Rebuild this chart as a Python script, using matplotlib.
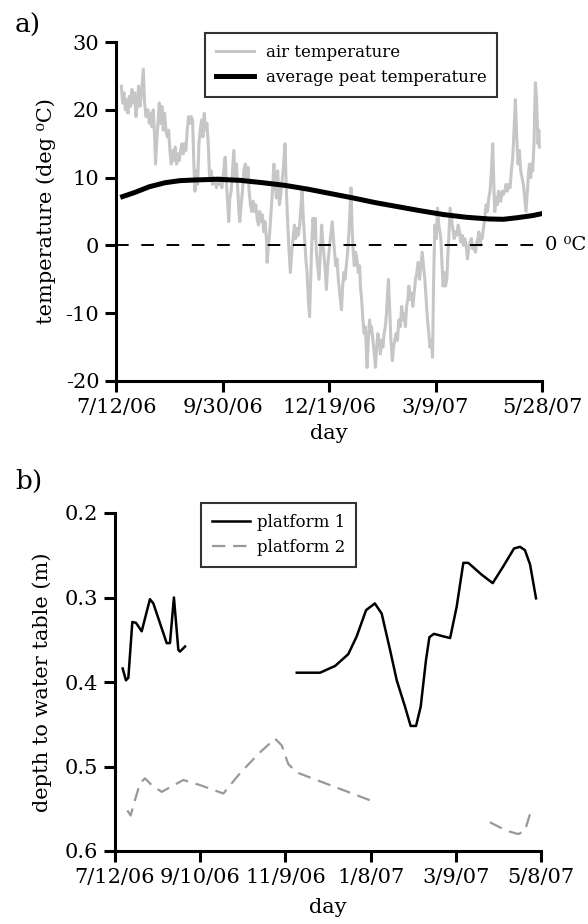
import numpy as np
import matplotlib
matplotlib.use("Agg")
import matplotlib.pyplot as plt

plt.rcParams['font.family'] = ['DejaVu Serif']
plt.rcParams['axes.unicode_minus'] = False

start = np.datetime64('2006-07-12')

# panel a) air temperature, days since 7/12/06
air_day = [4, 5, 6, 7, 8, 9, 10, 11, 12, 13, 14, 15, 16, 17, 18, 19, 20.5, 21.5, 22.5, 24,
           25, 26, 27, 28, 29, 29.7, 30.5, 31.5, 32.5, 33.5, 34.5, 35.5, 36.5, 37.5, 38.5, 39.5,
           40.5, 41.5, 42.5, 43.5, 44.5, 45.5, 46.5, 47.5, 48.5, 49.5, 50.5, 51.5, 52.5, 53.5,
           54.5, 55.5, 56.5, 57.5, 58.5, 59.3, 60.3, 61.3, 62.3, 63.3, 64.3, 65.3, 66.3, 67.3,
           68.3, 69.3, 70.3, 71.5, 72.5, 73.5, 74.5, 75.5, 76.5, 77.5, 78.5, 79.5, 81, 82, 83,
           84, 84.7, 85.5, 86.5, 87.5, 88.5, 89.5, 90.5, 91.5, 92.3, 93, 94, 95, 96, 97.2, 98.2,
           99.2, 100, 101, 102, 103, 104, 105, 106, 107, 108, 109, 110, 111, 112, 113, 113.5,
           114.5, 115.5, 116.5, 117.5, 118.6, 119.5, 120.5, 121.4, 122.3, 122.8, 123.5, 124.5,
           125.5, 126.3, 127, 127.8, 128.6, 129.3, 130, 131, 132, 133, 134, 135, 136, 137, 138,
           139, 139.8, 140.7, 141.7, 142.6, 143.5, 144.5, 145.4, 146.2, 147, 148, 149, 149.7,
           150.5, 151.5, 152.5, 153.5, 154.5, 155.5, 156.5, 157.3, 158, 159, 160, 161, 162.4,
           163.3, 164.2, 165, 166, 167, 168, 169.4, 170.3, 171.2, 172, 173, 174, 175, 176.5,
           177.3, 178.2, 179, 180, 181, 182, 183, 183.6, 184.5, 185.5, 186.4, 187.3, 188, 188.6,
           189.5, 190.5, 191.3, 192, 193, 194, 194.9, 195.8, 196.7, 197.7, 198.6, 199.5, 200.5,
           201.4, 202.3, 203.2, 204, 204.7, 205.5, 206.5, 207.6, 208.5, 209.5, 210.4, 211.4,
           212.4, 213.5, 214.6, 215.5, 216.5, 217.4, 218.3, 219.2, 220, 221, 222, 223, 224, 225,
           226, 227, 228, 229, 230, 231, 232, 233, 234, 235, 235.8, 236.8, 237.8, 238.5, 239.5,
           240.5, 241.5, 242.5, 243.3, 244, 245, 245.7, 246.6, 247.5, 248.5, 249.4, 250.2, 251,
           252, 253, 254, 255, 256, 257, 258, 259, 260, 261, 262, 263, 264, 265, 266, 267, 268,
           269, 270, 271, 272, 272.5, 273.5, 274.3, 275, 276, 277, 278, 279, 280, 281, 282, 283,
           283.8, 284.5, 285.5, 286.5, 287.3, 288, 289, 290, 291, 292, 293, 294, 295, 296, 297,
           298, 299, 300, 301, 302, 303, 304, 305, 306, 307, 308, 309, 310, 310.6, 311.5, 312.3,
           313, 314, 314.6, 315, 315.8, 316.5, 317, 317.6, 318]
air_temp = [23.5, 21, 22.5, 20, 21.5, 19.5, 22, 20.5, 23, 21, 22.5, 19, 21, 23.5, 20.5, 22, 26, 21, 19, 20,
            18, 19.5, 17.5, 20, 16, 12, 15, 18, 21, 18, 20.5, 17, 19.5, 17, 16, 17,
            14, 12, 14, 12.5, 14.5, 12, 13.5, 12.5, 14, 15, 13.5, 15, 14, 17,
            19, 18, 19, 18.5, 12, 8, 11, 9, 15, 17, 18.5, 16, 19.5, 17,
            18, 15, 10, 11, 9, 10, 9.5, 8.5, 10, 9, 10, 8.5, 11, 13, 9,
            6, 3.5, 7, 8, 11, 14, 10, 12, 8, 5, 3.5, 6, 8, 11, 12, 10,
            11.5, 8, 6, 5, 6.5, 5, 6, 4, 3, 5, 3.5, 4.5, 2, 3.5, 1, -2.5,
            0, 2, 5, 8, 12, 9, 7, 11, 8, 6, 7, 9,
            11, 13, 15, 9, 5, 2, -1, -4, -1, 1, 3, 1, 2.5, 1.5, 3,
            6, 8, 4, 1, -2, -4, -8, -10.5, -5, 0, 4, 1, 4,
            -1, -3, -5, -1, 3, 0, -2, -4, -6.5, -3, -1, 1, 3.5,
            1, -1, -3, -2, -5, -7, -9.5, -6, -4, -5, -3, -1, 2, 8.5,
            3, -1, -3, -1, -2, -4, -3, -6, -8, -11, -13, -12, -15, -18,
            -14, -11, -13, -12, -14, -16, -18, -15, -13, -14, -16, -14, -15,
            -13, -12, -10, -7, -5, -9, -14, -17, -15, -14, -13, -14,
            -11, -12, -9, -11, -10, -12, -9, -8, -6, -8, -7, -9, -7, -5,
            -4, -2.5, -5, -3, -1, -3, -5, -8, -11, -13, -15, -14, -16.5, -6, 3,
            1, 5.5, 3, 2, 1, -3, -6, -4, -6, -5, -1, 2, 5.5,
            4, 2.5, 1, 2, 1.5, 3, 2, 0.5, 1.5, 0, 1, 0, -2, -0.5, 0.5, 1, -0.5,
            0, -1, 0.5, 1, 2, 0, 1.5, 1, 2.5, 4, 6, 5, 7, 8, 11, 15,
            9, 5, 7, 6, 8, 7, 6.5, 8, 7.5, 8, 9, 8, 9, 8.5, 11,
            13, 17, 21.5, 16, 12, 14, 11, 10, 9, 7, 5, 8, 11, 12, 10, 12,
            11, 15, 20, 24, 22, 18, 15, 17, 14.5]

# panel a) average peat temperature
peat_day = [5, 14, 25, 37, 48, 59, 76, 93, 110, 127, 144, 161, 178, 195, 212, 229, 246,
            263, 280, 291, 302, 313, 319]
peat_temp = [7.2, 7.8, 8.65, 9.25, 9.55, 9.65, 9.75, 9.6, 9.25, 8.85, 8.3, 7.65, 7.0, 6.3,
             5.7, 5.1, 4.55, 4.15, 3.9, 3.85, 4.1, 4.4, 4.65]

# panel b) depth to water table (nan = no data)
p1_day = [5.4, 7.7, 9.4, 12.2, 14.8, 18.8, 24.6, 27, 36.4, 38.7, 41.5, 44.6, 45.8, 49.3,
          np.nan,
          128, 144.4, 155, 164.3, 170.2, 176.8, 183, 187.8, 193.7, 198.4, 204.2, 208.2, 212,
          215.3, 219, 221.4, 224.6, 231.2, 236, 240.6, 245.3, 248.8, 258.2, 266, 273.5, 281,
          285.2, 288.7, 292.3, 296.5]
p1_depth = [0.384, 0.398, 0.395, 0.329, 0.330, 0.340, 0.302, 0.307, 0.354, 0.354, 0.300,
            0.362, 0.364, 0.358,
            np.nan,
            0.389, 0.389, 0.381, 0.367, 0.346, 0.315, 0.307, 0.319, 0.362, 0.398, 0.429,
            0.452, 0.452, 0.429, 0.374, 0.347, 0.343, 0.346, 0.348, 0.311, 0.259, 0.259,
            0.273, 0.283, 0.263, 0.242, 0.240, 0.244, 0.261, 0.301]
p2_day = [8.7, 11, 14, 17.6, 21.1, 25.8, 32.9, 48.1, 59.9, 76.3, 88, 101, 112.7, 117.4,
          122, 128, 179.6,
          np.nan,
          264, 275.8, 284, 288.7, 292.3]
p2_depth = [0.552, 0.558, 0.540, 0.520, 0.514, 0.522, 0.530, 0.516, 0.522, 0.532, 0.508,
            0.485, 0.467, 0.475, 0.497, 0.507, 0.540,
            np.nan,
            0.566, 0.576, 0.580, 0.576, 0.556]

top_ticks = ['2006-07-12', '2006-09-30', '2006-12-19', '2007-03-09', '2007-05-28']
top_labels = ['7/12/06', '9/30/06', '12/19/06', '3/9/07', '5/28/07']
bot_ticks = ['2006-07-12', '2006-09-10', '2006-11-09', '2007-01-08', '2007-03-09', '2007-05-08']
bot_labels = ['7/12/06', '9/10/06', '11/9/06', '1/8/07', '3/9/07', '5/8/07']


def to_days(dates):
    return (np.array(dates, dtype='datetime64[D]') - start).astype(int)


def style_axes(ax):
    for side in ['top', 'right']:
        ax.spines[side].set_visible(False)
    for side in ['left', 'bottom']:
        ax.spines[side].set_linewidth(2.2)
    ax.tick_params(direction='out', length=8, width=2.2, labelsize=15, pad=4)


def style_legend(leg):
    leg.get_frame().set_edgecolor('black')
    leg.get_frame().set_linewidth(1.5)


fig = plt.figure(figsize=(5.88, 9.24), dpi=100)

# a)
ax1 = fig.add_axes([116 / 588, 1 - 381 / 924, 426 / 588, 339 / 924])
ax1.plot(air_day, air_temp, color='#c6c6c6', lw=2.2, label='air temperature')
ax1.plot(peat_day, peat_temp, color='black', lw=3.6, label='average peat temperature')
ax1.axhline(0, color='black', lw=1.4, dashes=(6.5, 6.5))
ax1.text(1.006, 0, '0 \u2070C', transform=ax1.get_yaxis_transform(), ha='left', va='center',
         fontsize=14, clip_on=False)
ticks = to_days(top_ticks)
ax1.set_xlim(ticks[0], ticks[-1])
ax1.set_ylim(-20, 30)
ax1.set_xticks(ticks)
ax1.set_xticklabels(top_labels)
ax1.set_yticks([-20, -10, 0, 10, 20, 30])
ax1.set_ylabel('temperature (deg \u2070C)', fontsize=15)
ax1.yaxis.set_label_coords(-0.142, 0.5)
ax1.set_xlabel('day', fontsize=15, labelpad=5)
style_axes(ax1)
leg = ax1.legend(loc='upper left', bbox_to_anchor=(0.209, 1.027), borderaxespad=0,
                 fontsize=12, fancybox=False, handlelength=2.3, handletextpad=0.7,
                 labelspacing=0.5, borderpad=0.65)
style_legend(leg)

# b)
ax2 = fig.add_axes([115 / 588, 1 - 851 / 924, 426 / 588, 338 / 924])
ax2.plot(p1_day, p1_depth, color='black', lw=1.8, label='platform 1')
ax2.plot(p2_day, p2_depth, color='#999999', lw=1.6, dashes=(6, 3.5), label='platform 2')
ticks = to_days(bot_ticks)
ax2.set_xlim(ticks[0], ticks[-1])
ax2.set_ylim(0.6, 0.2)
ax2.set_xticks(ticks)
ax2.set_xticklabels(bot_labels)
ax2.set_yticks([0.2, 0.3, 0.4, 0.5, 0.6])
ax2.set_ylabel('depth to water table (m)', fontsize=15)
ax2.yaxis.set_label_coords(-0.147, 0.5)
ax2.set_xlabel('day', fontsize=15, labelpad=8)
style_axes(ax2)
leg = ax2.legend(loc='upper left', bbox_to_anchor=(0.202, 1.03), borderaxespad=0,
                 fontsize=12, fancybox=False, handlelength=2.3, handletextpad=0.4,
                 labelspacing=0.5, borderpad=0.65)
style_legend(leg)

fig.text(15 / 588, 1 - 25 / 924, 'a)', fontsize=19, va='center')
fig.text(15 / 588, 1 - 481 / 924, 'b)', fontsize=19, va='center')

fig.savefig('out.png', dpi=100)
